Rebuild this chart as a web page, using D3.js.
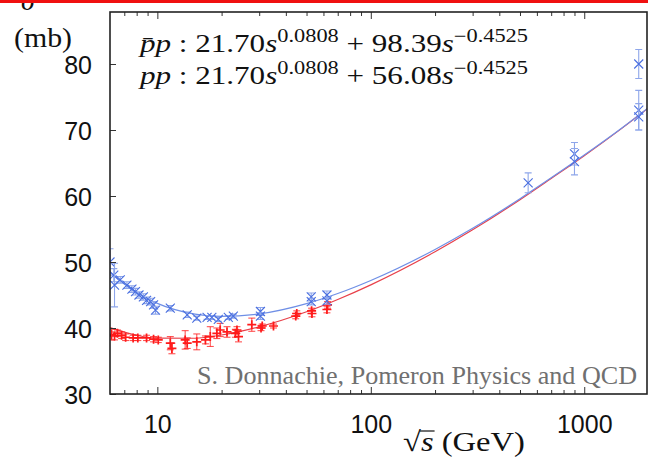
<!DOCTYPE html>
<html><head><meta charset="utf-8">
<script src="https://cdn.jsdelivr.net/npm/d3@7"></script>
<style>body{margin:0;background:#fff;} svg{display:block;}</style>
</head><body><svg id="c" width="648" height="459"></svg>
<script>
// ---- data ----
const xMajorTicks = [10, 100, 1000];
const xTickLabels = ["10", "100", "1000"];
const xMinorTicks = [7,8,9,20,30,40,50,60,70,80,90,200,300,400,500,600,700,800,900];
const yTicks = [30, 40, 50, 60, 70, 80];
const yTickLabels = ["30", "40", "50", "60", "70", "80"];

// fitted curves
const fitSqrtS = [6, 8, 10, 15, 20, 30, 50, 70, 100, 200, 300, 500, 700, 1000, 1500, 2000];
const fitPbarP = [48.43, 45.35, 43.73, 42.10, 41.75, 42.13, 43.69, 45.22, 47.20, 51.90, 55.11, 59.59, 62.75, 66.2, 70.3, 73.4];
const fitPP    = [40.07, 38.91, 38.46, 38.45, 38.94, 40.18, 42.46, 44.32, 46.54, 51.55, 54.87, 59.44, 62.65, 66.1, 70.25, 73.35];

// pbar-p measurements
const pbarpSqrtS = [6.0, 6.25, 6.3, 6.7, 7.2, 7.6, 7.9, 8.2, 8.6, 8.9, 9.3, 9.6, 9.8, 11.5, 13.8, 15.3, 17.1, 18.0, 19.3, 21.5, 22.7, 30.4, 30.4, 52.6, 52.6, 62.3, 62.3, 546, 900, 900, 1800, 1800, 1800];
const pbarpSigma = [50.0, 48.0, 46.5, 47.3, 46.5, 45.9, 45.5, 45.0, 44.7, 44.2, 44.0, 43.5, 42.7, 43.0, 42.0, 41.5, 41.6, 41.6, 41.3, 41.6, 41.8, 42.5, 41.8, 44.7, 44.0, 45.0, 44.1, 62.0, 66.4, 65.2, 80.0, 73.0, 72.0];
const pbarpErr   = [2.0, 1.0, 3.3, 0.5, 0.5, 0.5, 0.5, 0.5, 0.5, 0.5, 0.5, 0.5, 0.6, 0.4, 0.4, 0.3, 0.3, 0.3, 0.3, 0.3, 0.3, 0.6, 0.5, 0.6, 0.5, 0.6, 0.5, 1.5, 1.7, 2.0, 2.2, 3.0, 2.0];

// p-p measurements
const ppSqrtS = [6.1, 6.3, 6.5, 6.8, 7.1, 7.7, 8.1, 8.9, 9.6, 10.1, 11.5, 11.7, 13.5, 13.8, 15.3, 16.8, 17.7, 19.0, 19.7, 21.2, 23.2, 23.6, 24.0, 27.7, 30.6, 31.0, 35.0, 44.5, 45.0, 52.8, 53.0, 62.3, 62.7];
const ppSigma = [39.0, 38.8, 39.2, 38.9, 38.6, 38.5, 38.5, 38.5, 38.3, 38.2, 37.7, 36.9, 38.2, 37.7, 37.9, 38.2, 38.7, 39.2, 39.7, 39.4, 39.2, 39.7, 38.7, 40.5, 40.0, 40.3, 40.3, 41.8, 42.2, 42.6, 42.2, 42.8, 43.5];
const ppErr   = [0.8, 0.6, 0.5, 0.5, 0.5, 0.4, 0.4, 0.4, 0.4, 0.4, 1.0, 0.8, 1.4, 0.8, 1.2, 0.6, 1.5, 0.8, 1.0, 0.8, 0.6, 0.5, 0.8, 1.0, 0.4, 0.3, 0.3, 0.4, 0.4, 0.4, 0.5, 0.5, 0.5];

// ---- drawing ----
const L = 110, R = 647, T = 12, B = 394;
const svg = d3.select("#c");
const x = d3.scaleLog().domain([6, 1968]).range([L, R]);
const y = d3.scaleLinear().domain([30, 87.88]).range([B, T]);

const sans = "Liberation Sans";
const serif = "Liberation Serif";

svg.append("rect").attr("width", 648).attr("height", 459).attr("fill", "#fff");

const defs = svg.append("defs");
defs.append("clipPath").attr("id", "plot").append("rect")
  .attr("x", L).attr("y", T).attr("width", R - L).attr("height", B - T);

const plot = svg.append("g").attr("clip-path", "url(#plot)");

// curves
const line = d3.line().x(d => x(d[0])).y(d => y(d[1])).curve(d3.curveMonotoneX);
plot.append("path").datum(fitSqrtS.map((v, i) => [v, fitPP[i]]))
  .attr("d", line).attr("fill", "none").attr("stroke", "#e8404a").attr("stroke-width", 1.2);
plot.append("path").datum(fitSqrtS.map((v, i) => [v, fitPbarP[i]]))
  .attr("d", line).attr("fill", "none").attr("stroke", "#6f8fe6").attr("stroke-width", 1.2);

// p-p points
const ppData = ppSqrtS.map((v, i) => ({x: v, y: ppSigma[i], e: ppErr[i]}));
const gpp = plot.append("g").attr("stroke", "#ff1a1a").attr("stroke-width", 1.1).attr("fill", "none");
ppData.forEach(d => {
  const cx = x(d.x), cy = y(d.y), y0 = y(d.y - d.e), y1 = y(d.y + d.e);
  gpp.append("line").attr("x1", cx).attr("x2", cx).attr("y1", y0).attr("y2", y1).attr("stroke-opacity", 0.75);
  gpp.append("line").attr("x1", cx - 3.5).attr("x2", cx + 3.5).attr("y1", y0).attr("y2", y0).attr("stroke-opacity", 0.75);
  gpp.append("line").attr("x1", cx - 3.5).attr("x2", cx + 3.5).attr("y1", y1).attr("y2", y1).attr("stroke-opacity", 0.75);
  gpp.append("path").attr("d", `M${cx - 4.5},${cy}H${cx + 4.5}M${cx},${cy - 4.5}V${cy + 4.5}`).attr("stroke-width", 1.7);
});

// pbar-p points
const pbData = pbarpSqrtS.map((v, i) => ({x: v, y: pbarpSigma[i], e: pbarpErr[i]}));
const gpb = plot.append("g").attr("fill", "none");
pbData.forEach(d => {
  const cx = x(d.x), cy = y(d.y), y0 = y(d.y - d.e), y1 = y(d.y + d.e);
  gpb.append("path").attr("d", `M${cx},${y0}V${y1}M${cx - 3.5},${y0}H${cx + 3.5}M${cx - 3.5},${y1}H${cx + 3.5}`)
    .attr("stroke", "#8ea6ea").attr("stroke-width", 1.1);
  gpb.append("path").attr("d", `M${cx - 4.5},${cy - 4.5}L${cx + 4.5},${cy + 4.5}M${cx - 4.5},${cy + 4.5}L${cx + 4.5},${cy - 4.5}`)
    .attr("stroke", "#4a6fe0").attr("stroke-width", 1.1);
});

// axes
const axB = svg.append("g").attr("transform", `translate(0,${B})`)
  .call(d3.axisBottom(x).tickValues(xMajorTicks).tickFormat((d, i) => xTickLabels[i])
    .tickSizeInner(-7).tickSizeOuter(0).tickPadding(21));
axB.select(".domain").remove();
axB.selectAll("line").attr("stroke", "#333");
axB.selectAll("text").attr("font-family", sans).attr("font-size", 25).attr("fill", "#111");

const axBm = svg.append("g").attr("transform", `translate(0,${B})`)
  .call(d3.axisBottom(x).tickValues(xMinorTicks).tickFormat("").tickSizeInner(-4).tickSizeOuter(0));
axBm.select(".domain").remove();
axBm.selectAll("line").attr("stroke", "#333");

const axT = svg.append("g").attr("transform", `translate(0,${T})`)
  .call(d3.axisTop(x).tickValues(xMajorTicks).tickFormat("").tickSizeInner(-7).tickSizeOuter(0));
axT.select(".domain").remove();
axT.selectAll("line").attr("stroke", "#333");
const axTm = svg.append("g").attr("transform", `translate(0,${T})`)
  .call(d3.axisTop(x).tickValues(xMinorTicks).tickFormat("").tickSizeInner(-4).tickSizeOuter(0));
axTm.select(".domain").remove();
axTm.selectAll("line").attr("stroke", "#333");

const axL = svg.append("g").attr("transform", `translate(${L},0)`)
  .call(d3.axisLeft(y).tickValues(yTicks).tickFormat((d, i) => yTickLabels[i])
    .tickSizeInner(-6).tickSizeOuter(0).tickPadding(18));
axL.select(".domain").remove();
axL.selectAll("line").attr("stroke", "#333");
axL.selectAll("text").attr("font-family", sans).attr("font-size", 25).attr("fill", "#111").attr("dy", "0.36em");

// frame
svg.append("rect").attr("x", L).attr("y", T).attr("width", R - L).attr("height", B - T)
  .attr("fill", "none").attr("stroke", "#222").attr("stroke-width", 1.6);

// formula text
function formula(yb, label, coef) {
  const t = svg.append("text").attr("x", 140).attr("y", yb)
    .attr("font-family", serif).attr("font-size", 25).attr("fill", "#111");
  t.append("tspan").attr("font-style", "italic").text(label);
  t.append("tspan").text(" : 21.70");
  t.append("tspan").attr("font-style", "italic").text("s");
  t.append("tspan").attr("font-size", 18).attr("dy", -10).text("0.0808");
  t.append("tspan").attr("dy", 10).text(" + " + coef);
  t.append("tspan").attr("font-style", "italic").text("s");
  t.append("tspan").attr("font-size", 18).attr("dy", -10).text("\u22120.4525");
  t.attr("textLength", 388).attr("lengthAdjust", "spacingAndGlyphs");
  return t;
}
formula(52, "p\u0304p", "98.39");
formula(84, "pp", "56.08");

// credit
svg.append("text").attr("x", 197).attr("y", 384)
  .attr("font-family", serif).attr("font-size", 25).attr("fill", "#707070")
  .attr("textLength", 440).attr("lengthAdjust", "spacingAndGlyphs")
  .text("S. Donnachie, Pomeron Physics and QCD");

// y label
svg.append("text").attr("x", 14).attr("y", 47)
  .attr("font-family", serif).attr("font-size", 27).attr("fill", "#111")
  .attr("textLength", 58).attr("lengthAdjust", "spacingAndGlyphs")
  .text("(mb)");
svg.append("text").attr("x", 21).attr("y", 10)
  .attr("font-family", serif).attr("font-style", "italic").attr("font-size", 28).attr("fill", "#111")
  .text("\u03c3");

// x label
const xl = svg.append("text").attr("x", 403).attr("y", 451)
  .attr("font-family", serif).attr("font-size", 28).attr("fill", "#111")
  .attr("textLength", 122).attr("lengthAdjust", "spacingAndGlyphs");
xl.append("tspan").text("\u221a");
xl.append("tspan").attr("font-style", "italic").text("s");
xl.append("tspan").text(" (GeV)");
{
  const node = xl.node();
  const s1 = node.getEndPositionOfChar(1).x;
  const r1 = node.getEndPositionOfChar(0).x;
  svg.append("line").attr("x1", r1 - 1).attr("x2", s1 + 1).attr("y1", 431).attr("y2", 431)
    .attr("stroke", "#111").attr("stroke-width", 1.2);
}

// red top band
svg.append("rect").attr("x", 0).attr("y", 0).attr("width", 648).attr("height", 3).attr("fill", "#f01010");
</script></body></html>
